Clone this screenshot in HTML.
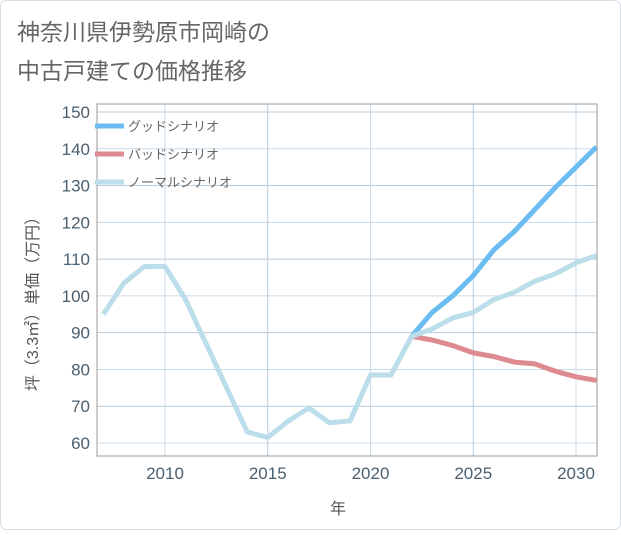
<!DOCTYPE html>
<html><head><meta charset="utf-8"><style>
body{margin:0;background:#fff;}
svg text{font-family:"Liberation Sans","Noto Sans CJK JP",sans-serif;}
</style></head><body>
<svg width="621" height="530" viewBox="0 0 621 530" xmlns="http://www.w3.org/2000/svg">
<rect x="0.5" y="0.5" width="620" height="529" rx="6" fill="#fff" stroke="#d8dee4"/>
<text x="17" y="40" font-size="23" fill="#666">神奈川県伊勢原市岡崎の</text>
<text x="17" y="79" font-size="23" fill="#666">中古戸建ての価格推移</text>
<g id="grid"></g>
<g id="axes"></g>
<g id="series"></g>
<rect x="97" y="104" width="500" height="352" fill="none" stroke="#999"/>
<g>
<line x1="95" y1="126" x2="124" y2="126" stroke="#6bbcf0" stroke-width="5"/>
<text x="128" y="131" font-size="13" fill="#666">グッドシナリオ</text>
<line x1="95" y1="154" x2="124" y2="154" stroke="#dd8a90" stroke-width="5"/>
<text x="128" y="159" font-size="13" fill="#666">バッドシナリオ</text>
<line x1="95" y1="182" x2="124" y2="182" stroke="#bcdeea" stroke-width="5"/>
<text x="128" y="187" font-size="13" fill="#666">ノーマルシナリオ</text>
</g>
<text x="338" y="514" font-size="16" fill="#555" text-anchor="middle">年</text>
<text transform="translate(38,300) rotate(-90)" font-size="16" fill="#555" text-anchor="middle">坪（3.3㎡）単価（万円）</text>
</svg>
<script>
const normalYears=[2007,2008,2009,2010,2011,2012,2013,2014,2015,2016,2017,2018,2019,2020,2021,2022,2023,2024,2025,2026,2027,2028,2029,2030,2031];
const normalValues=[95,103.5,108,108,99,87,75,63,61.5,66,69.5,65.5,66,78.5,78.5,89,91,94,95.5,99,101,104,106,109,111];
const scenarioYears=[2022,2023,2024,2025,2026,2027,2028,2029,2030,2031];
const goodValues=[89,95.5,100,105.5,112.5,117.5,123.5,129.5,135,140.5];
const badValues=[89,88,86.5,84.5,83.5,82,81.5,79.5,78,77];
const yTicks=[60,70,80,90,100,110,120,130,140,150];
const xTicks=[2010,2015,2020,2025,2030];
const NS="http://www.w3.org/2000/svg";
const X=y=>165+(y-2010)*20.55;
const Y=v=>443-(v-60)*3.678;
const grid=document.getElementById('grid'),axes=document.getElementById('axes'),series=document.getElementById('series');
function mk(t,a){const e=document.createElementNS(NS,t);for(const k in a)e.setAttribute(k,a[k]);return e;}
yTicks.forEach((v,i)=>{
 const l=mk('line',{x1:97,x2:597,y1:Y(v),y2:Y(v),stroke:i%2?'#b8ccdc':'#c8dcea','stroke-width':1});
 
 
 grid.appendChild(l);
 const t=mk('text',{x:90,y:Y(v)+6,'font-size':17,fill:'#4a6070','text-anchor':'end'});
 t.textContent=v;
 
 
 axes.appendChild(t);
});
xTicks.forEach((v,i)=>{
 const l=mk('line',{x1:X(v),x2:X(v),y1:104,y2:456,stroke:i%2?'#b8ccdc':'#c8dcea','stroke-width':1});
 
 
 grid.appendChild(l);
 const t=mk('text',{x:X(v),y:479,'font-size':17,fill:'#4a6070','text-anchor':'middle'});
 t.textContent=v;
 
 
 axes.appendChild(t);
});
function line(xs,vs,color,name){
 const p=mk('polyline',{points:xs.map((x,i)=>X(x)+','+Y(vs[i])).join(' '),fill:'none',stroke:color,'stroke-width':5,'stroke-linejoin':'round'});
 
 
 series.appendChild(p);
}
line(scenarioYears,badValues,'#dd8a90','bad-scenario-line');
line(scenarioYears,goodValues,'#6bbcf0','good-scenario-line');
line(normalYears,normalValues,'#bcdeea','normal-scenario-line');
</script>
</body></html>
